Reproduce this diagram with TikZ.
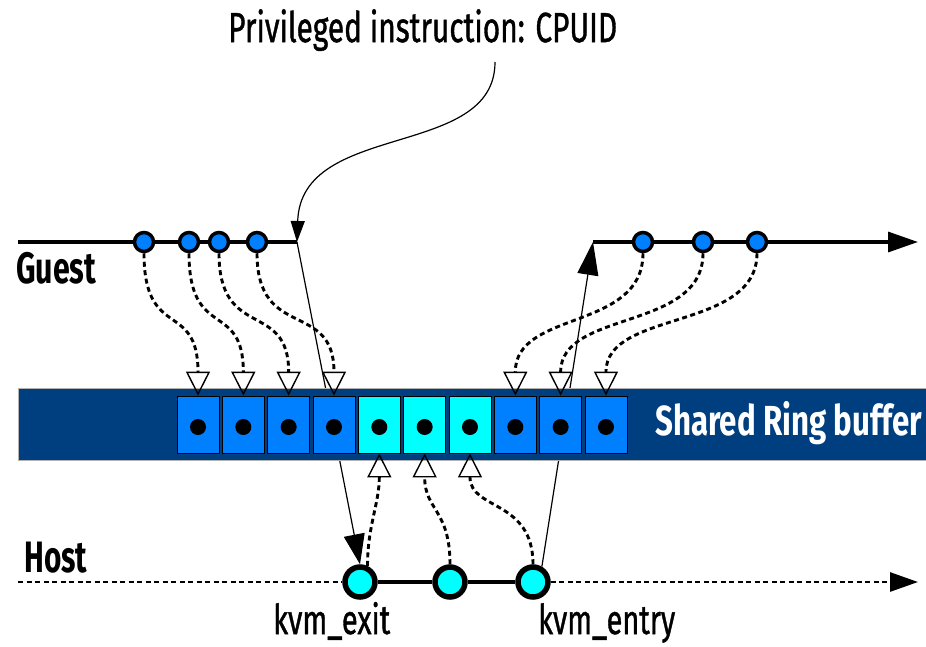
\documentclass[tikz,border=0pt]{standalone}
\usepackage{fontspec}
\setmainfont{Fira Sans}
\newfontfamily\regf[FakeBold=1.2]{Fira Sans}
\usetikzlibrary{arrows.meta}
\definecolor{gblue}{RGB}{0,128,255}
\definecolor{dblue}{RGB}{0,63,127}
\definecolor{hcyan}{RGB}{0,255,255}
\newcommand{\fitt}[3]{\resizebox{#1pt}{\height}{\fontsize{#2}{#2}\selectfont #3}}
\begin{document}
\begin{tikzpicture}[x=1pt,y=-1pt,
  gdot/.style={circle,draw=black,line width=3.5pt,fill=gblue,minimum size=19pt,inner sep=0pt},
  hdot/.style={circle,draw=black,line width=5.5pt,fill=hcyan,minimum size=30pt,inner sep=0pt},
  cellb/.style={draw=black,line width=0.8pt,minimum width=42pt,minimum height=57pt,inner sep=0pt},
  dotb/.style={circle,fill=black,minimum size=16pt,inner sep=0pt},
  gline/.style={line width=3.3pt},
  hdash/.style={line width=2.8pt,dash pattern=on 5pt off 3.5pt},
  hsolid/.style={line width=3.8pt},
  thinarrow/.style={line width=1.2pt},
  dcurve/.style={line width=2.9pt,dash pattern=on 5pt off 3.5pt,
     -{Triangle[open,length=24pt,width=24pt,line width=1.4pt]}},
  lbl/.style={inner sep=0pt,anchor=base west}
]
\useasboundingbox (0,0) rectangle (926,646);
% coordinates
\coordinate (gs) at (18,242);
\coordinate (gend) at (297,242);
\coordinate (grs) at (593,242);
\coordinate (gre) at (918,242);
\coordinate (hs) at (18,582);
\coordinate (he) at (918,582);
\coordinate (tstart) at (495,62);
% guest nodes
\node[gdot] (g1) at (144,242) {};
\node[gdot] (g2) at (189,242) {};
\node[gdot] (g3) at (219,242) {};
\node[gdot] (g4) at (257,242) {};
\node[gdot] (g5) at (643,242) {};
\node[gdot] (g6) at (703,242) {};
\node[gdot] (g7) at (757,242) {};
% host nodes
\node[hdot] (h1) at (360,582) {};
\node[hdot] (h2) at (450,582) {};
\node[hdot] (h3) at (533,582) {};
% timelines
\draw[gline] (gs) -- (g1) -- (g2) -- (g3) -- (g4) -- (gend);
\draw[gline,-{Triangle[length=30pt,width=20pt]}] (grs) -- (g5) -- (g6) -- (g7) -- (gre);
\draw[hdash] (hs) -- (h1);
\draw[hsolid] (h1) -- (h2) -- (h3);
\draw[hdash,-{Triangle[length=28pt,width=19pt]}] (h3) -- (he);
% thin arrows (behind buffer)
\draw[thinarrow,-{Triangle[length=30pt,width=21pt]}] (gend) -- (h1.north);
\draw[thinarrow,-{Triangle[length=33pt,width=21pt]}] (h3.60) -- (grs);
% buffer
\path[fill=dblue,draw=gray!60,line width=0.8pt] (18,388) rectangle (932,460);
\foreach \i/\col in {1/gblue,2/gblue,3/gblue,4/gblue,5/hcyan,6/hcyan,7/hcyan,8/gblue,9/gblue,10/gblue}{
  \node[cellb,fill=\col] (c\i) at ({198+(\i-1)*45.33},424.5) {};
  \node[dotb] (d\i) at ({198+(\i-1)*45.33},427) {};
}
% dashed curves guest -> buffer
\draw[dcurve] (g1.south) .. controls +(0,88) and +(0,-96) .. (c1.north);
\draw[dcurve] (g2.south) .. controls +(0,88) and +(0,-96) .. (c2.north);
\draw[dcurve] (g3.south) .. controls +(0,88) and +(0,-96) .. (c3.north);
\draw[dcurve] (g4.south) .. controls +(0,88) and +(0,-96) .. (c4.north);
\draw[dcurve] (g5.south) .. controls +(0,78) and +(0,-86) .. (c8.north);
\draw[dcurve] (g6.south) .. controls +(0,78) and +(0,-86) .. (c9.north);
\draw[dcurve] (g7.south) .. controls +(0,78) and +(0,-86) .. (c10.north);
% dashed curves host -> buffer
\draw[dcurve] (h1.65) .. controls +(0,-40) and +(0,50) .. (c5.south);
\draw[dcurve] (h2.north) .. controls +(0,-55) and +(0,57) .. (c6.south);
\draw[dcurve] (h3.north) .. controls +(0,-65) and +(0,57) .. (c7.south);
% title curve
\draw[thinarrow,-{Triangle[length=21pt,width=14pt]}] (tstart) .. controls (495,160) and (301,120) .. (gend);
% labels
\node[lbl] (title) at (228,42) {\fitt{389}{42}{\regf Privileged instruction: CPUID}};
\node[lbl] (guest) at (16,283) {\fitt{80}{44}{\bfseries Guest}};
\node[lbl] (host) at (24,572) {\fitt{63}{44}{\bfseries Host}};
\node[lbl,text=white] (shared) at (655,435) {\fitt{267}{42}{\bfseries Shared Ring buffer}};
\node[lbl] (kexit) at (273,634) {\fitt{117}{41}{\regf kvm\_exit}};
\node[lbl] (kentry) at (538,634) {\fitt{137}{41}{\regf kvm\_entry}};
\end{tikzpicture}
\end{document}
